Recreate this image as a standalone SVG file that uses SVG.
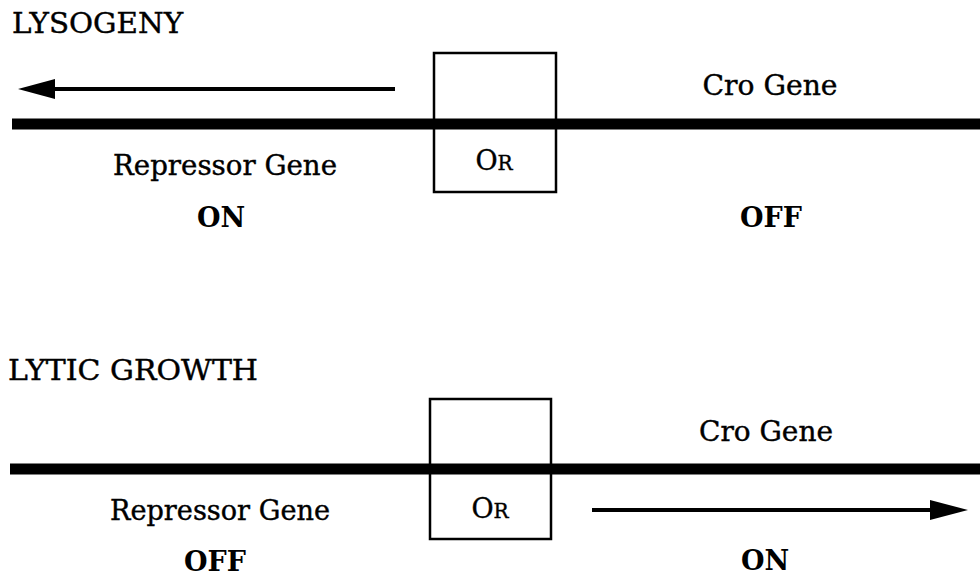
<svg xmlns="http://www.w3.org/2000/svg" width="980" height="580" viewBox="0 0 980 580">
<style>
text{font-family:"DejaVu Serif","Liberation Serif",serif;fill:#000}
.t{font-size:27px;stroke:#000;stroke-width:0.4}
.b{font-size:27px;font-weight:bold}
.dna{stroke:#000;stroke-width:11;fill:none}
.box{stroke:#000;stroke-width:2.5;fill:none}
.arr{stroke:#000;stroke-width:4;fill:none}
</style>
<rect width="980" height="580" fill="#fff"/>
<g id="lysogeny">
<text class="t" x="12" y="33" textLength="171" lengthAdjust="spacingAndGlyphs">LYSOGENY</text>
<g id="connectors-top">
<line class="dna" x1="12" y1="124" x2="980" y2="124"/>
<line class="arr" x1="395" y1="89" x2="50" y2="89"/>
<polygon points="18,89 55,79 55,99" fill="#000"/>
</g>
<g id="or-top">
<rect class="box" x="434" y="53" width="122" height="139"/>
<text class="t" x="494" y="170" text-anchor="middle">O<tspan font-size="20">R</tspan></text>
</g>
<g id="repressor-top"><text class="t" x="225" y="175" text-anchor="middle" textLength="224" lengthAdjust="spacingAndGlyphs">Repressor Gene</text></g>
<g id="cro-top"><text class="t" x="770" y="95" text-anchor="middle" textLength="135" lengthAdjust="spacingAndGlyphs">Cro Gene</text></g>
<g id="on-top"><text class="b" x="221" y="227" text-anchor="middle">ON</text></g>
<g id="off-top"><text class="b" x="771" y="227" text-anchor="middle">OFF</text></g>
</g>
<g id="lytic">
<text class="t" x="8" y="380" textLength="250" lengthAdjust="spacingAndGlyphs">LYTIC GROWTH</text>
<g id="connectors-bottom">
<line class="dna" x1="10" y1="469" x2="980" y2="469"/>
<line class="arr" x1="592" y1="510" x2="935" y2="510"/>
<polygon points="968,510 930,500 930,520" fill="#000"/>
</g>
<g id="or-bottom">
<rect class="box" x="430" y="399" width="121" height="140"/>
<text class="t" x="490" y="518" text-anchor="middle">O<tspan font-size="20">R</tspan></text>
</g>
<g id="repressor-bottom"><text class="t" x="220" y="520" text-anchor="middle" textLength="220" lengthAdjust="spacingAndGlyphs">Repressor Gene</text></g>
<g id="cro-bottom"><text class="t" x="766" y="441" text-anchor="middle" textLength="134" lengthAdjust="spacingAndGlyphs">Cro Gene</text></g>
<g id="off-bottom"><text class="b" x="215" y="571" text-anchor="middle">OFF</text></g>
<g id="on-bottom"><text class="b" x="765" y="570" text-anchor="middle">ON</text></g>
</g>
</svg>
